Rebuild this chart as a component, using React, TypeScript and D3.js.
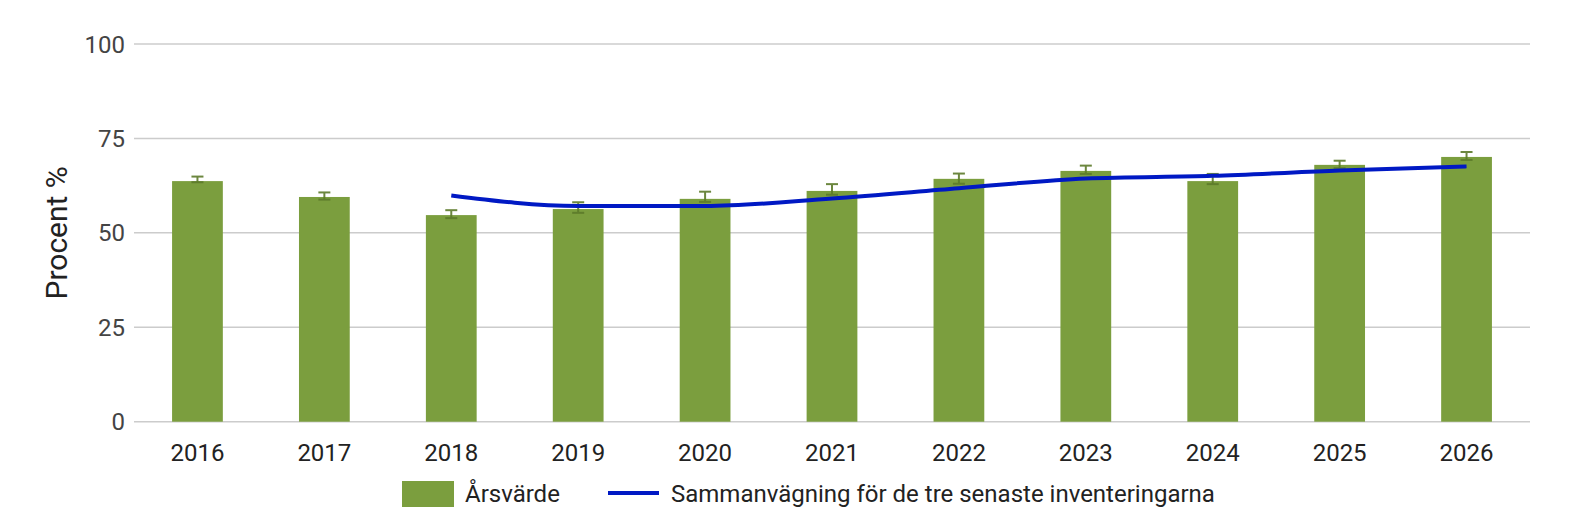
import React, { useEffect, useRef } from 'react';
import * as d3 from 'd3';

const years = ['2016', '2017', '2018', '2019', '2020', '2021', '2022', '2023', '2024', '2025', '2026'];
const yearlyValues = [63.7, 59.5, 54.7, 56.3, 59.0, 61.1, 64.3, 66.4, 63.7, 68.0, 70.1];
const errorLow = [63.4, 58.8, 53.9, 55.3, 58.2, 60.1, 63.0, 65.6, 62.9, 67.1, 69.3];
const errorHigh = [64.9, 60.7, 56.0, 58.1, 60.9, 62.9, 65.7, 67.8, 65.6, 69.1, 71.4];
const combinedValues: (number | null)[] = [null, null, 59.9, 57.1, 57.1, 59.1, 61.8, 64.4, 65.1, 66.5, 67.6];
const yTicks = [0, 25, 50, 75, 100];

const barLabel = 'Årsvärde';
const lineLabel = 'Sammanvägning för de tre senaste inventeringarna';

const App: React.FC = () => {
    const chartRef = useRef<SVGSVGElement>(null);

    useEffect(() => {
        if (!chartRef.current) return;
        d3.select(chartRef.current).selectAll('*').remove();

        const width = 1585;
        const height = 525;
        const margin = { top: 44, right: 55, bottom: 103.3, left: 134 };
        const innerWidth = width - margin.left - margin.right;
        const innerHeight = height - margin.top - margin.bottom;
        const font = 'Roboto, sans-serif';

        const svg = d3.select(chartRef.current)
            .attr('width', width)
            .attr('height', height)
            .attr('viewBox', `0 0 ${width} ${height}`);

        svg.append('rect').attr('width', width).attr('height', height).attr('fill', '#fff');

        const g = svg.append('g')
            .attr('transform', `translate(${margin.left}, ${margin.top})`);

        const xScale = d3.scaleBand()
            .domain(years)
            .range([0, innerWidth])
            .paddingInner(0.6)
            .paddingOuter(0.3);

        const yScale = d3.scaleLinear()
            .domain([0, 100])
            .range([innerHeight, 0]);

        // Gridlines
        g.selectAll('.grid')
            .data(yTicks)
            .enter()
            .append('line')
            .attr('x1', 0)
            .attr('x2', innerWidth)
            .attr('y1', d => yScale(d))
            .attr('y2', d => yScale(d))
            .attr('stroke', '#cccccc')
            .attr('stroke-width', 1.5);

        // Y tick labels
        g.selectAll('.ytick')
            .data(yTicks)
            .enter()
            .append('text')
            .attr('x', -9)
            .attr('y', d => yScale(d))
            .attr('dy', '0.36em')
            .attr('text-anchor', 'end')
            .attr('font-family', font)
            .attr('font-size', '24px')
            .attr('fill', '#444')
            .text(d => d);

        // X tick labels
        g.selectAll('.xtick')
            .data(years)
            .enter()
            .append('text')
            .attr('x', d => (xScale(d) as number) + xScale.bandwidth() / 2)
            .attr('y', innerHeight + 39)
            .attr('text-anchor', 'middle')
            .attr('font-family', font)
            .attr('font-size', '24px')
            .attr('fill', '#222')
            .text(d => d);

        // Y axis label
        svg.append('text')
            .attr('transform', `translate(67, ${margin.top + innerHeight / 2}) rotate(-90)`)
            .attr('text-anchor', 'middle')
            .attr('font-family', font)
            .attr('font-size', '30px')
            .attr('fill', '#222')
            .text('Procent %');

        // Bars
        g.selectAll('.bar')
            .data(years)
            .enter()
            .append('rect')
            .attr('x', d => xScale(d) as number)
            .attr('y', (d, i) => yScale(yearlyValues[i]))
            .attr('width', xScale.bandwidth())
            .attr('height', (d, i) => innerHeight - yScale(yearlyValues[i]))
            .attr('fill', '#7b9e3e');

        // Error bars
        const errColor = '#5d7b2b';
        const cap = 6;
        const eb = g.selectAll('.err')
            .data(years)
            .enter()
            .append('g')
            .attr('stroke', errColor)
            .attr('stroke-width', 2)
            .attr('opacity', 0.9);
        eb.append('line')
            .attr('x1', d => (xScale(d) as number) + xScale.bandwidth() / 2)
            .attr('x2', d => (xScale(d) as number) + xScale.bandwidth() / 2)
            .attr('y1', (d, i) => yScale(errorLow[i]))
            .attr('y2', (d, i) => yScale(errorHigh[i]));
        eb.append('line')
            .attr('x1', d => (xScale(d) as number) + xScale.bandwidth() / 2 - cap)
            .attr('x2', d => (xScale(d) as number) + xScale.bandwidth() / 2 + cap)
            .attr('y1', (d, i) => yScale(errorHigh[i]))
            .attr('y2', (d, i) => yScale(errorHigh[i]));
        eb.append('line')
            .attr('x1', d => (xScale(d) as number) + xScale.bandwidth() / 2 - cap)
            .attr('x2', d => (xScale(d) as number) + xScale.bandwidth() / 2 + cap)
            .attr('y1', (d, i) => yScale(errorLow[i]))
            .attr('y2', (d, i) => yScale(errorLow[i]));

        // Combined line
        const lineData = years
            .map((y, i) => ({ year: y, value: combinedValues[i] }))
            .filter(d => d.value !== null) as { year: string; value: number }[];
        const line = d3.line<{ year: string; value: number }>()
            .x(d => (xScale(d.year) as number) + xScale.bandwidth() / 2)
            .y(d => yScale(d.value))
            .curve(d3.curveMonotoneX);
        g.append('path')
            .datum(lineData)
            .attr('d', line)
            .attr('fill', 'none')
            .attr('stroke', '#0019c4')
            .attr('stroke-width', 4);

        // Legend
        const legend = svg.append('g');
        legend.append('rect')
            .attr('x', 402)
            .attr('y', 481)
            .attr('width', 52)
            .attr('height', 26)
            .attr('fill', '#7b9e3e');
        legend.append('text')
            .attr('x', 465)
            .attr('y', 502)
            .attr('font-family', font)
            .attr('font-size', '24px')
            .attr('fill', '#222')
            .text(barLabel);
        legend.append('line')
            .attr('x1', 608)
            .attr('x2', 659)
            .attr('y1', 493)
            .attr('y2', 493)
            .attr('stroke', '#0019c4')
            .attr('stroke-width', 4);
        legend.append('text')
            .attr('x', 671)
            .attr('y', 502)
            .attr('font-family', font)
            .attr('font-size', '24px')
            .attr('fill', '#222')
            .text(lineLabel);
    }, []);

    return (
        <div style={{ position: 'absolute', left: 0, top: 0 }}>
            <svg ref={chartRef} style={{ display: 'block' }}></svg>
        </div>
    );
};

export default App;
